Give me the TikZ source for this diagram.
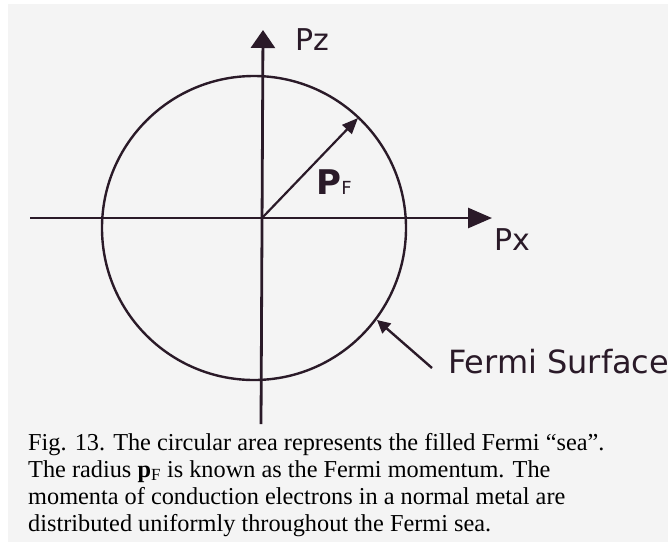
\documentclass[tikz,border=0pt]{standalone}
\usepackage{fontspec}
\setmainfont{Liberation Serif}
\newfontfamily\handfont{DejaVu Sans}
\usetikzlibrary{arrows.meta}
\definecolor{ink}{HTML}{2A1A28}
\definecolor{paper}{HTML}{F4F4F4}
\tikzset{
  inkline/.style={draw=ink, line width=2.4pt},
  hand/.style={text=ink, inner sep=0pt, font=\handfont},
  capline/.style={anchor=base west, inner sep=0pt, text=black, font=\fontsize{24.3}{27}\selectfont}
}
\begin{document}
\begin{tikzpicture}[x=1pt,y=-1pt]
\useasboundingbox (0,0) rectangle (668,542);
\fill[white] (0,0) rectangle (668,542);
\fill[paper] (8,4) rectangle (668,542);
% coordinates
\coordinate (O) at (262,218);
\coordinate (C) at (254,228);
\coordinate (xl) at (30,218);
\coordinate (xr) at (492,218);
\coordinate (yb) at (261,424);
\coordinate (yt) at (263,30);
\coordinate (rt) at (358,118);
\coordinate (fs0) at (432,368);
\coordinate (fs1) at (377,320);
% circle
\draw[inkline] (C) circle[radius=152];
% axes
\draw[inkline, line width=2.8pt, -{Triangle[width=24pt,length=18pt]}] (yb) -- (yt);
\draw[inkline, line width=2.8pt, -{Triangle[width=20pt,length=24pt]}] (xl) -- (xr);
% radius
\draw[inkline, line width=2.2pt, -{Triangle[width=13pt,length=16pt]}] (O) -- (rt);
% fermi surface pointer
\draw[inkline, line width=2.4pt, -{Triangle[width=13pt,length=13pt]}] (fs0) -- (fs1);
% labels
\node[hand, font=\handfont\fontsize{30}{30}\selectfont] (pz) at (312,40) {Pz};
\node[hand, font=\handfont\fontsize{30}{30}\selectfont] (px) at (512,240) {Px};
\node[hand] (pf) at (334,182) {{\fontsize{34}{34}\selectfont\bfseries P}{\fontsize{18}{18}\selectfont F}};
\node[hand, font=\handfont\fontsize{32}{32}\selectfont, anchor=west] (fs) at (448,362) {Fermi Surface};
% caption
\node[capline] (c1) at (28,450) {Fig. 13. The circular area represents the filled Fermi “sea”.};
\node[capline] (c2) at (28,477) {The radius \textbf{p}\textsubscript{F} is known as the Fermi momentum. The};
\node[capline] (c3) at (28,504) {momenta of conduction electrons in a normal metal are};
\node[capline] (c4) at (28,531) {distributed uniformly throughout the Fermi sea.};
\end{tikzpicture}
\end{document}
